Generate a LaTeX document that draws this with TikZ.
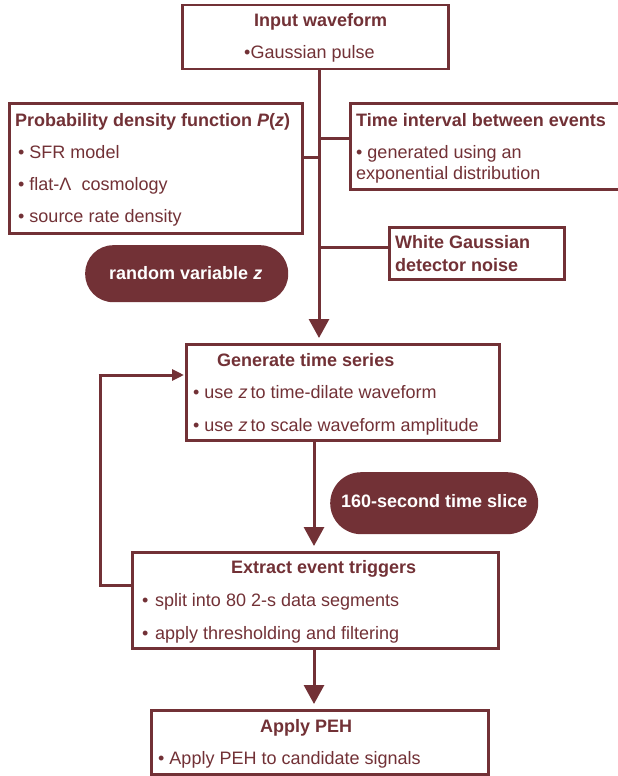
\documentclass[tikz,border=0pt]{standalone}
\usepackage{fontspec}
\setmainfont{Liberation Sans}
\usetikzlibrary{arrows.meta}
\definecolor{maroon}{RGB}{114,49,54}
\begin{document}
\begin{tikzpicture}[x=1pt,y=-1pt,
  box/.style={draw=maroon,line width=2.5pt,fill=white,anchor=north west,inner sep=0pt},
  pill/.style={fill=maroon,anchor=north west,inner sep=0pt},
  conn/.style={draw=maroon,line width=3pt},
  bigarrow/.style={conn,-{Triangle[width=20pt,length=19pt]},shorten >=5pt},
  smallarrow/.style={conn,-{Triangle[width=11pt,length=12pt]},shorten >=1pt},
  txt/.style={anchor=base west,inner sep=0pt,text=maroon,font=\fontsize{18}{20}\selectfont},
  ttl/.style={txt,font=\fontsize{18}{20}\selectfont\bfseries},
  wtx/.style={anchor=base west,inner sep=0pt,text=white,font=\fontsize{18}{20}\selectfont\bfseries}]
\useasboundingbox (0,0) rectangle (618,776);
% trunk coordinates
\coordinate (trunk) at (319,0);
\coordinate (trunk2) at (314,0);
\coordinate (pdfj) at (319,157);
\coordinate (timej) at (319,138);
\coordinate (whitej) at (319,247);
\coordinate (fb1) at (100,585);
\coordinate (fb2) at (100,375);
% boxes
\node[box,minimum width=266pt,minimum height=64pt] (input) at (181,4) {};
\node[box,minimum width=293pt,minimum height=130pt] (pdf) at (8,102) {};
\node[box,minimum width=280pt,minimum height=86pt] (time) at (349,102) {};
\node[box,minimum width=175pt,minimum height=52pt] (white) at (388,226) {};
\node[pill,rounded corners=28pt,minimum width=203pt,minimum height=57pt] (rvz) at (85,245) {};
\node[box,minimum width=313pt,minimum height=96pt] (gen) at (185,343) {};
\node[pill,rounded corners=31pt,minimum width=208pt,minimum height=62pt] (slice) at (330,472) {};
\node[box,minimum width=366pt,minimum height=96pt] (extract) at (131,551) {};
\node[box,minimum width=337pt,minimum height=64pt] (peh) at (150,709) {};
% connectors
\draw[bigarrow] (input.south -| trunk) -- (gen.north -| trunk);
\draw[conn] (pdf.east |- pdfj) -- (pdfj);
\draw[conn] (timej) -- (time.west |- timej);
\draw[conn] (whitej) -- (white.west |- whitej);
\draw[bigarrow] (gen.south -| trunk2) -- (extract.north -| trunk2);
\draw[bigarrow] (extract.south -| trunk2) -- (peh.north -| trunk2);
\draw[conn,line join=miter] (extract.west |- fb1) -- (fb1) -- (fb2);
\draw[smallarrow] ([xshift=-1.5pt]fb2) -- (gen.west |- fb2);
% texts
\node[ttl] (t1) at (254,27) {Input waveform};
\node[txt] (t2) at (244,59) {•Gaussian pulse};
\node[ttl] (t3) at (15,126) {Probability density function \textit{P}(\textit{z})};
\node[txt] (t4) at (18,158) {• SFR model};
\node[txt] (t5) at (18,190) {• flat-Λ\ \ cosmology};
\node[txt] (t6) at (18,222) {• source rate density};
\node[ttl] (t7) at (356,126) {Time interval between events};
\node[txt] (t8) at (356,158) {• generated using an};
\node[txt] (t9) at (356,179) {exponential distribution};
\node[ttl] (t10) at (395,248) {White Gaussian};
\node[ttl] (t11) at (395,271) {detector noise};
\node[wtx] (t12) at (109,279) {random variable \textit{z}};
\node[ttl] (t13) at (217,366) {Generate time series};
\node[txt] (t14) at (193,398) {• use \textit{z}\hspace{3pt}to time-dilate waveform};
\node[txt] (t15) at (193,431) {• use \textit{z}\hspace{3pt}to scale waveform amplitude};
\node[wtx] (t16) at (341,507) {160-second time slice};
\node[ttl] (t17) at (231,573) {Extract event triggers};
\node[txt] (t18) at (142,606) {•\hspace{6.5pt}split into 80 2-s data segments};
\node[txt] (t19) at (142,639) {•\hspace{6.5pt}apply thresholding and filtering};
\node[ttl] (t20) at (260,732) {Apply PEH};
\node[txt] (t21) at (158,764) {• Apply PEH to candidate signals};
\end{tikzpicture}
\end{document}
